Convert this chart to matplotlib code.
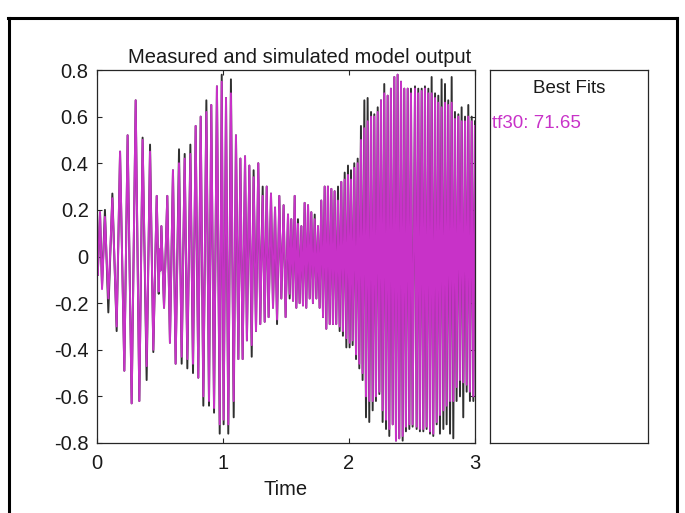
import matplotlib
matplotlib.use("Agg")
import matplotlib.pyplot as plt
from matplotlib.lines import Line2D

plt.rcParams['font.family'] = ['Liberation Sans', 'DejaVu Sans']

# Extremes (alternating peaks and troughs), seconds
t_ext = [
    # 0 - 0.5 s
    0.000, 0.006, 0.024, 0.040, 0.063, 0.090, 0.122, 0.156, 0.183, 0.217,
    0.243, 0.275, 0.307, 0.336, 0.362, 0.394, 0.421, 0.447, 0.474, 0.490,
    0.497, 0.503,
    # 0.5 - 1.0 s
    0.511, 0.532, 0.558, 0.579, 0.603, 0.624, 0.651, 0.672, 0.696, 0.717,
    0.741, 0.762, 0.783, 0.804, 0.823, 0.844, 0.868, 0.889, 0.907, 0.929,
    0.952, 0.974, 0.990,
    # 1.0 - 1.5 s
    1.005, 1.024, 1.042, 1.063, 1.085, 1.103, 1.122, 1.138, 1.156, 1.175,
    1.190, 1.209, 1.228, 1.243, 1.262, 1.280, 1.296, 1.315, 1.331, 1.347,
    1.362, 1.381, 1.397, 1.413, 1.429, 1.447, 1.463, 1.481, 1.497,
    # 1.5 - 2.0 s
    1.516, 1.529, 1.542, 1.556, 1.569, 1.582, 1.595, 1.608, 1.622, 1.635,
    1.648, 1.661, 1.675, 1.688, 1.701, 1.714, 1.728, 1.741, 1.754, 1.767,
    1.780, 1.794, 1.807, 1.820, 1.833, 1.847, 1.860, 1.873, 1.886, 1.899,
    1.913, 1.926, 1.939, 1.952, 1.966, 1.979, 1.992, 2.005,
    # 2.0 - 2.5 s
    2.016, 2.029, 2.042, 2.056, 2.069, 2.082, 2.095, 2.108, 2.122, 2.135,
    2.148, 2.161, 2.175, 2.188, 2.201, 2.214, 2.228, 2.241, 2.254, 2.267,
    2.280, 2.294, 2.307, 2.320, 2.333, 2.347, 2.360, 2.373, 2.386, 2.399,
    2.413, 2.426, 2.439, 2.452, 2.466, 2.479, 2.492, 2.505,
    # 2.5 - 3.0 s
    2.524, 2.537, 2.550, 2.563, 2.577, 2.590, 2.603, 2.616, 2.630, 2.643,
    2.656, 2.669, 2.683, 2.696, 2.709, 2.722, 2.735, 2.749, 2.762, 2.775,
    2.788, 2.802, 2.815, 2.828, 2.841, 2.854, 2.868, 2.881, 2.894, 2.907,
    2.921, 2.934, 2.947, 2.960, 2.974, 2.987, 3.000,
]

measured = [
    0.02, -0.08, 0.19, -0.13, 0.20, -0.24, 0.27, -0.32, 0.45, -0.49,
    0.52, -0.63, 0.67, -0.62, 0.51, -0.53, 0.48, -0.41, 0.26, -0.16,
    0.03, -0.06,
    0.13, -0.22, 0.26, -0.37, 0.37, -0.46, 0.46, -0.46, 0.44, -0.48,
    0.48, -0.50, 0.56, -0.52, 0.60, -0.64, 0.67, -0.64, 0.65, -0.67,
    0.73, -0.76, 0.78,
    -0.72, 0.68, -0.76, 0.76, -0.69, 0.52, -0.44, 0.42, -0.44, 0.43,
    -0.36, 0.39, -0.43, 0.37, -0.32, 0.40, -0.29, 0.30, -0.28, 0.30,
    -0.26, 0.27, -0.22, 0.21, -0.29, 0.26, -0.18, 0.22, -0.26,
    0.18, -0.18, 0.16, -0.19, 0.26, -0.22, 0.16, -0.20, 0.13, -0.21,
    0.23, -0.22, 0.22, -0.18, 0.19, -0.20, 0.18, -0.18, 0.13, -0.22,
    0.24, -0.26, 0.30, -0.31, 0.30, -0.29, 0.29, -0.29, 0.28, -0.29,
    0.30, -0.32, 0.32, -0.34, 0.36, -0.39, 0.39, -0.39,
    0.37, -0.38, 0.40, -0.44, 0.42, -0.48, 0.56, -0.53, 0.67, -0.69,
    0.68, -0.71, 0.62, -0.66, 0.61, -0.62, 0.64, -0.59, 0.67, -0.71,
    0.74, -0.74, 0.69, -0.77, 0.72, -0.72, 0.77, -0.79, 0.78, -0.78,
    0.75, -0.79, 0.72, -0.75, 0.72, -0.74, 0.72, -0.73,
    0.73, -0.74, 0.72, -0.75, 0.72, -0.75, 0.73, -0.74, 0.72, -0.76,
    0.77, -0.77, 0.70, -0.72, 0.69, -0.76, 0.76, -0.74, 0.74, -0.72,
    0.67, -0.76, 0.77, -0.78, 0.62, -0.62, 0.61, -0.60, 0.64, -0.69,
    0.60, -0.58, 0.65, -0.62, 0.60, -0.62, 0.58,
]

simulated = [
    0.02, -0.08, 0.19, -0.14, 0.17, -0.18, 0.25, -0.30, 0.45, -0.49,
    0.52, -0.63, 0.67, -0.62, 0.50, -0.47, 0.45, -0.40, 0.26, -0.15,
    0.03, -0.06,
    0.13, -0.22, 0.26, -0.37, 0.37, -0.46, 0.40, -0.43, 0.42, -0.44,
    0.44, -0.46, 0.56, -0.52, 0.60, -0.60, 0.62, -0.62, 0.65, -0.65,
    0.73, -0.72, 0.75,
    -0.70, 0.68, -0.72, 0.70, -0.62, 0.52, -0.44, 0.42, -0.44, 0.43,
    -0.36, 0.39, -0.38, 0.34, -0.32, 0.40, -0.29, 0.26, -0.28, 0.30,
    -0.26, 0.27, -0.22, 0.21, -0.27, 0.26, -0.18, 0.22, -0.26,
    0.18, -0.16, 0.16, -0.19, 0.26, -0.22, 0.14, -0.20, 0.13, -0.21,
    0.23, -0.22, 0.22, -0.18, 0.19, -0.20, 0.16, -0.18, 0.13, -0.22,
    0.24, -0.26, 0.30, -0.31, 0.30, -0.29, 0.29, -0.29, 0.28, -0.29,
    0.24, -0.30, 0.32, -0.32, 0.33, -0.35, 0.35, -0.37,
    0.33, -0.36, 0.38, -0.42, 0.40, -0.46, 0.50, -0.50, 0.55, -0.60,
    0.58, -0.62, 0.60, -0.62, 0.60, -0.60, 0.62, -0.58, 0.67, -0.66,
    0.70, -0.70, 0.69, -0.74, 0.72, -0.72, 0.77, -0.79, 0.78, -0.78,
    0.75, -0.77, 0.72, -0.73, 0.72, -0.72, 0.70, -0.72,
    0.72, -0.73, 0.70, -0.74, 0.71, -0.74, 0.72, -0.73, 0.70, -0.75,
    0.70, -0.76, 0.68, -0.71, 0.66, -0.68, 0.64, -0.66, 0.66, -0.64,
    0.65, -0.62, 0.66, -0.62, 0.59, -0.56, 0.60, -0.53, 0.58, -0.54,
    0.58, -0.55, 0.60, -0.58, 0.58, -0.60, 0.56,
]

fit_name = "tf30"
fit_value = 71.65

x_ticks = [0, 1, 2, 3]
y_ticks = [-0.8, -0.6, -0.4, -0.2, 0, 0.2, 0.4, 0.6, 0.8]
y_tick_labels = ["-0.8", "-0.6", "-0.4", "-0.2", "0", "0.2", "0.4", "0.6", "0.8"]

sim_color = "#c832c8"
meas_color = "#303030"
edge = "#262626"
txt = "#1a1a1a"

fig = plt.figure(figsize=(6.85, 5.13), dpi=100)

# outer frame of the window
for xs, ys in [([0.011, 0.989], [0.965, 0.965]),
               ([0.013, 0.013], [0.965, -0.01]),
               ([0.989, 0.989], [0.965, -0.01])]:
    fig.add_artist(Line2D(xs, ys, color="black", lw=2.2,
                          transform=fig.transFigure))

ax = fig.add_axes([0.1416, 0.1365, 0.5518, 0.727])
ax.plot(t_ext, measured, color=meas_color, lw=1.4)
ax.plot(t_ext, simulated, color=sim_color, lw=1.4)

ax.set_xlim(0, 3)
ax.set_ylim(-0.8, 0.8)
ax.set_xticks(x_ticks)
ax.set_yticks(y_ticks)
ax.set_yticklabels(y_tick_labels)
ax.tick_params(direction="in", length=3.5, width=0.8, labelsize=14.5,
               top=True, right=True, colors=edge, labelcolor=txt)
ax.tick_params(axis="x", pad=8)
ax.tick_params(axis="y", pad=6)
for s in ax.spines.values():
    s.set_color(edge)
    s.set_linewidth(0.9)
ax.set_title("Measured and simulated model output", fontsize=14.5,
             color=txt, pad=5, x=0.535)
ax.set_xlabel("Time", fontsize=14.5, color=txt, labelpad=5)

# best fits panel
lg = fig.add_axes([0.7153, 0.1365, 0.2307, 0.727])
lg.set_xticks([])
lg.set_yticks([])
for s in lg.spines.values():
    s.set_color(edge)
    s.set_linewidth(0.9)
lg.text(0.5, 0.95, "Best Fits", ha="center", va="center", fontsize=13.5,
        color=txt, transform=lg.transAxes)
lg.text(0.015, 0.857, f"{fit_name}: {fit_value:.2f}", ha="left", va="center",
        fontsize=13.5, color=sim_color, transform=lg.transAxes)

fig.savefig("out.png", dpi=100)
